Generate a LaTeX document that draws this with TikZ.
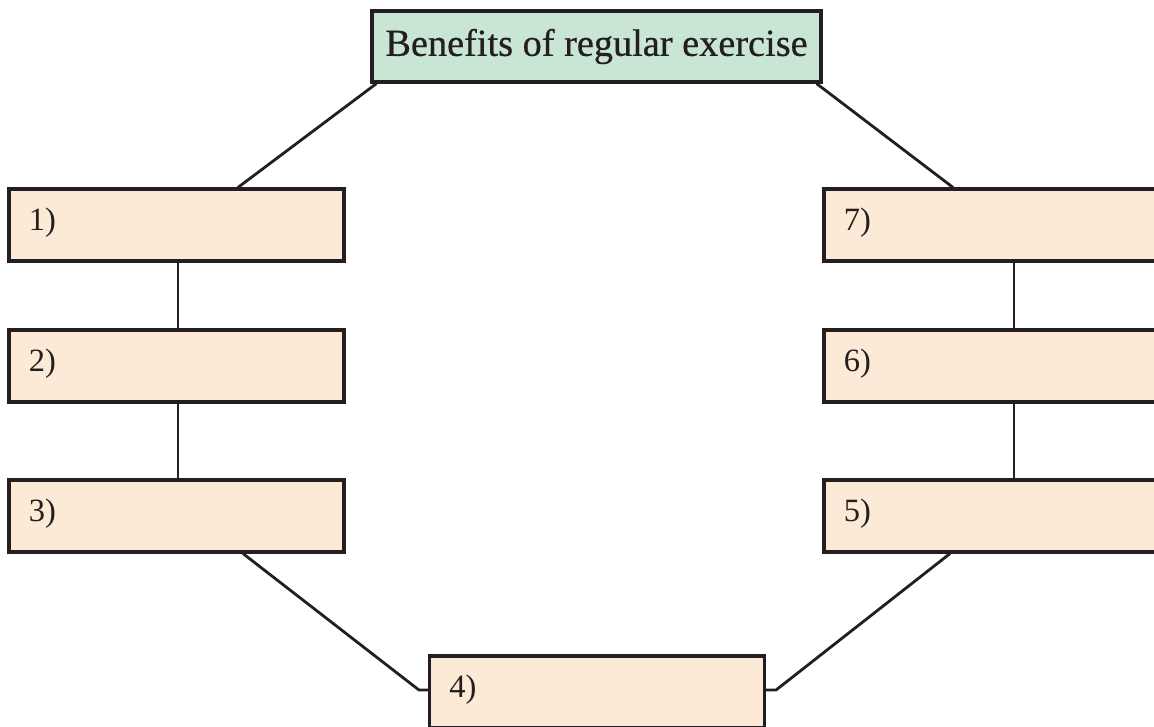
\documentclass[tikz,border=0pt]{standalone}
\usepackage{fontspec}
\setmainfont{Liberation Serif}
\newfontfamily\headfont[FakeBold=0.6]{Liberation Serif}
\usetikzlibrary{positioning,calc}
\usepackage{xcolor}
\definecolor{peach}{HTML}{FDEAD6}
\definecolor{mint}{HTML}{C9E5D3}
\definecolor{ink}{HTML}{231F20}

\tikzset{
    box/.style={draw=ink, line width=1.8pt, fill=peach, minimum width=6.7cm, minimum height=1.44cm, inner sep=0pt},
    titlebox/.style={draw=ink, line width=1.8pt, fill=mint, minimum width=8.98cm, minimum height=1.42cm, inner sep=0pt, text=ink, font=\headfont\fontsize{21.8}{26}\selectfont},
    num/.style={inner sep=0pt, text=ink, font=\fontsize{18.5}{22}\selectfont},
    link/.style={draw=ink, line width=1.6pt}
}

\begin{document}
\begin{tikzpicture}[x=0.02cm, y=-0.02cm]
            \useasboundingbox (0,0) rectangle (1154,727);
            \clip (0,0) rectangle (1154,727);

            % title
            \node[titlebox] (title) at (596.5,46.5) {Benefits of regular exercise};

            % numbered boxes
            \foreach \n/\x/\y in {1/176.5/225, 2/176.5/366, 3/176.5/516, 4/597/692,
                                  5/991.5/516, 6/991.5/366, 7/991.5/225} {
                \node[box] (b\n) at (\x,\y) {};
                \node[num, anchor=west] (n\n) at ($(b\n.west)+(21,-2)$) {\n)};
            }

            % left side
            \draw[link] ($(title.south west)+(6,0)$) -- ($(b1.north)+(61.5,0)$);
            \draw[link] ($(b1.south)+(1.5,0)$) -- ($(b2.north)+(1.5,0)$);
            \draw[link] ($(b2.south)+(1.5,0)$) -- ($(b3.north)+(1.5,0)$);
            \draw[link] ($(b3.south)+(66.5,0)$) -- ($(b4.west)+(-9,-2)$) -- ($(b4.west)+(0,-2)$);

            % right side
            \draw[link] ($(title.south east)+(-6,0)$) -- ($(b7.north)+(-38.5,0)$);
            \draw[link] ($(b7.south)+(22.5,0)$) -- ($(b6.north)+(22.5,0)$);
            \draw[link] ($(b6.south)+(22.5,0)$) -- ($(b5.north)+(22.5,0)$);
            \draw[link] ($(b5.south)+(-41.5,0)$) -- ($(b4.east)+(10,-2)$) -- ($(b4.east)+(0,-2)$);
        \end{tikzpicture}
\end{document}
